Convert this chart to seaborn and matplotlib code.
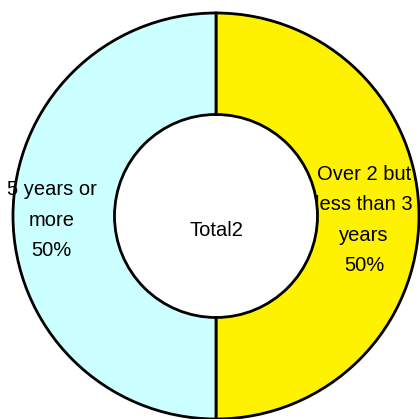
import matplotlib
matplotlib.use("Agg")
import matplotlib.pyplot as plt
import seaborn as sns

# Chart data
categories = ["Over 2 but\nless than 3\nyears", "5 years or\nmore"]
shares = [50, 50]
colors = ["#FFF200", "#CCFFFF"]
center_label = "Total2"

# label distance from centre for each slice (fraction of radius)
label_dist = [0.73, 0.81]

sns.set_theme(style="white")
plt.rcParams["font.family"] = ["Liberation Sans", "DejaVu Sans"]

fig = plt.figure(figsize=(4.2, 4.19), dpi=100)
ax = fig.add_axes([0, 0, 1, 1])

labels = [f"{c}\n{s}%" for c, s in zip(categories, shares)]
wedges, texts = ax.pie(
    shares,
    labels=labels,
    colors=colors,
    startangle=90,
    counterclock=False,
    radius=1.0,
    labeldistance=0.77,
    wedgeprops=dict(width=0.5, edgecolor="black", linewidth=2),
    textprops=dict(fontsize=14.5, color="black", linespacing=1.75,
                   ha="center", va="center"),
)
# nudge each label to its own distance along its slice direction
for t, d in zip(texts, label_dist):
    x, y = t.get_position()
    t.set_position((x * d / 0.77, -0.02))

ax.text(0, -0.07, center_label, fontsize=14.5, color="black",
        ha="center", va="center")

ax.set_aspect("equal")
ax.set_xlim(-1.064, 1.005)
ax.set_ylim(-1.0, 1.064)
ax.axis("off")

fig.savefig("out.png", dpi=100)
plt.close(fig)
